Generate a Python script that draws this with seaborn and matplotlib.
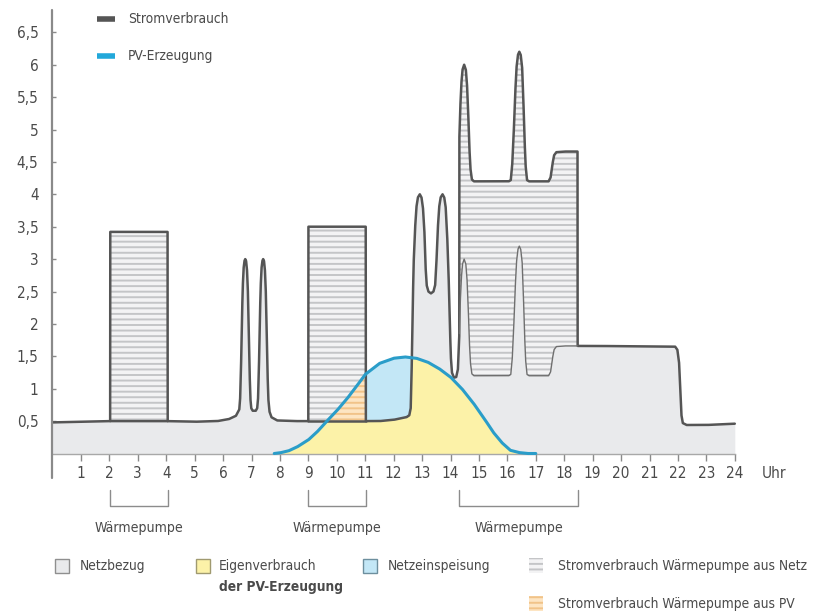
import numpy as np
import pandas as pd
import matplotlib
matplotlib.use("Agg")
import matplotlib.pyplot as plt
import seaborn as sns
from matplotlib import font_manager
from matplotlib.lines import Line2D
from matplotlib.patches import Rectangle

# Household load without heat pump (hour, kW)
house_hours = [0.0, 2.0, 4.0, 5.0, 5.8, 6.2, 6.45, 6.57, 6.60, 6.63, 6.66, 6.69, 6.72,
               6.75, 6.78, 6.81, 6.84, 6.87, 6.90, 6.93, 6.96, 6.99, 7.04, 7.15, 7.20,
               7.23, 7.26, 7.29, 7.32, 7.35, 7.38, 7.41, 7.44, 7.47, 7.50, 7.53, 7.56,
               7.59, 7.63, 7.70, 7.90, 8.5, 11.0, 11.5, 12.0, 12.45, 12.55, 12.60, 12.63,
               12.66, 12.70, 12.75, 12.80, 12.85, 12.92, 12.98, 13.03, 13.08, 13.12, 13.16,
               13.22, 13.31, 13.40, 13.46, 13.50, 13.55, 13.60, 13.65, 13.72, 13.78, 13.83,
               13.88, 13.93, 13.97, 14.01, 14.05, 14.12, 14.20, 14.26, 14.30, 14.34, 14.38,
               14.42, 14.48, 14.54, 14.58, 14.62, 14.66, 14.70, 14.75, 14.82, 16.05, 16.12,
               16.17, 16.22, 16.27, 16.32, 16.37, 16.42, 16.47, 16.52, 16.56, 16.60, 16.64,
               16.69, 16.76, 17.45, 17.52, 17.58, 17.64, 17.72, 18.0, 19.0, 21.9, 21.98,
               22.04, 22.08, 22.12, 22.17, 22.3, 23.0, 24.0]
house_kw = [0.48, 0.50, 0.50, 0.49, 0.50, 0.53, 0.58, 0.68, 0.85, 1.30, 2.00, 2.55, 2.85,
            2.97, 3.00, 2.97, 2.85, 2.55, 2.00, 1.30, 0.85, 0.70, 0.66, 0.66, 0.70,
            0.85, 1.30, 2.00, 2.55, 2.85, 2.97, 3.00, 2.97, 2.85, 2.55, 2.00, 1.30,
            0.85, 0.65, 0.56, 0.51, 0.50, 0.50, 0.50, 0.52, 0.56, 0.59, 0.70, 1.20,
            2.00, 2.90, 3.45, 3.80, 3.95, 4.00, 3.95, 3.80, 3.45, 2.90, 2.60,
            2.50, 2.47, 2.50, 2.60, 2.90, 3.45, 3.80, 3.95, 4.00, 3.95, 3.80,
            3.40, 2.80, 2.10, 1.50, 1.25, 1.17, 1.18, 1.30, 1.70, 2.30, 2.70,
            2.92, 3.00, 2.92, 2.70, 2.30, 1.75, 1.40, 1.23, 1.20, 1.20, 1.22,
            1.45, 1.90, 2.50, 2.95, 3.15, 3.20, 3.15, 2.95, 2.50, 1.90, 1.45,
            1.22, 1.20, 1.20, 1.26, 1.45, 1.60, 1.65, 1.66, 1.66, 1.65, 1.60,
            1.40, 1.00, 0.60, 0.47, 0.44, 0.44, 0.46]

# Heat pump operating windows (start hour, end hour, kW)
hp_start = [2.03, 9.0, 14.31]
hp_end = [4.05, 11.02, 18.47]
hp_kw = [2.92, 3.0, 3.0]

# PV generation (hour, kW)
pv_hours = [7.8, 8.0, 8.3, 8.6, 9.0, 9.3, 9.65, 10.0, 10.35, 10.7, 11.0, 11.5, 12.0,
            12.4, 12.8, 13.2, 13.6, 14.0, 14.4, 14.8, 15.2, 15.5, 15.8, 16.1, 16.4,
            16.7, 17.0]
pv_kw = [0.0, 0.01, 0.04, 0.10, 0.21, 0.33, 0.50, 0.66, 0.84, 1.04, 1.22, 1.39, 1.47,
         1.49, 1.47, 1.41, 1.31, 1.18, 1.00, 0.78, 0.53, 0.33, 0.17, 0.05, 0.015,
         0.0, 0.0]

y_ticks = [0.5, 1, 1.5, 2, 2.5, 3, 3.5, 4, 4.5, 5, 5.5, 6, 6.5]
x_ticks = list(range(1, 25))

# ---------------------------------------------------------------- style
sns.set_theme(style="white")
fonts = font_manager.fontManager.ttflist
names = {f.name for f in fonts}
condensed = [f.name for f in fonts if str(f.stretch) in ("condensed", "semi-condensed")]
if "Liberation Sans Narrow" in names:
    family = ["Liberation Sans Narrow", "DejaVu Sans"]
elif "DejaVu Sans" in condensed:
    family = ["DejaVu Sans"]
    plt.rcParams["font.stretch"] = "condensed"
else:
    family = ["Liberation Sans", "DejaVu Sans"]
plt.rcParams["font.family"] = family
plt.rcParams["hatch.linewidth"] = 1.4
TXT = "#4a4a4a"
AXC = "#8a8a8a"

W, H = 819, 613
fig = plt.figure(figsize=(W / 100, H / 100), dpi=100)
fig.patch.set_facecolor("white")
renderer = fig.canvas.get_renderer()


def fitted_size(label, width_px, base=12.0):
    probe = fig.text(0, 0, label, fontsize=base)
    w = probe.get_window_extent(renderer).width
    probe.remove()
    return base * width_px / w


LEG = min(12.5, fitted_size("Stromverbrauch Wärmepumpe aus Netz", 248))
TOPLEG = min(12.5, fitted_size("Stromverbrauch", 100))
WPL = min(12.0, fitted_size("Wärmepumpe", 88))

x0, x1, ytop, ybot = 52.5, 734.8, 10.0, 453.5
ax = fig.add_axes([x0 / W, 1 - ybot / H, (x1 - x0) / W, (ybot - ytop) / H])
ax.set_facecolor("white")

# ---------------------------------------------------------------- series on a common time base
t = np.union1d(np.linspace(0, 24, 9601), np.array(hp_start + hp_end))
house = np.interp(t, house_hours, house_kw)
pv = np.interp(t, pv_hours, pv_kw, left=0.0, right=0.0)
hp = np.zeros_like(t)
for s, e, k in zip(hp_start, hp_end, hp_kw):
    hp = np.where((t >= s) & (t < e), k, hp)
total = house + hp
in_hp = hp > 0

# grid draw (Netzbezug)
ax.fill_between(t, 0, total, color="#e9eaec", lw=0, zorder=1)
# self-consumed PV
ax.fill_between(t, 0, np.minimum(pv, house), color="#fcf2a8", lw=0, zorder=2)
# feed-in
ax.fill_between(t, house, np.where(~in_hp, np.maximum(pv, house), house),
                color="#c3e7f6", lw=0, zorder=2)
# heat pump fed by PV
ax.fill_between(t, house, np.where(in_hp, np.clip(pv, house, total), house), where=in_hp,
                facecolor="#fde5c3", edgecolor="#f1c389", hatch="---", lw=0, zorder=3)
# heat pump fed by grid
ax.fill_between(t, np.where(in_hp, np.maximum(house, pv), total), total, where=in_hp,
                facecolor="#f3f3f4", edgecolor="#c4c5c7", hatch="---", lw=0, zorder=3)

df = pd.DataFrame({"Stunde": t, "Verbrauch": total, "Haushalt": house, "PV": pv})
sns.lineplot(data=df, x="Stunde", y="Verbrauch", color="#555555", lw=1.8,
             estimator=None, sort=False, ax=ax, zorder=6)
for i, (s, e) in enumerate(zip(hp_start, hp_end)):
    seg = df[(df.Stunde >= s) & (df.Stunde <= e)]
    if i < 2:
        sns.lineplot(data=seg, x="Stunde", y="Haushalt", color="#555555", lw=1.8,
                     estimator=None, sort=False, ax=ax, zorder=6)
    else:
        sns.lineplot(data=seg, x="Stunde", y="Haushalt", color="#6f6f6f", lw=1.0,
                     estimator=None, sort=False, ax=ax, zorder=6)
pv_seg = df[(df.Stunde >= pv_hours[0]) & (df.Stunde <= pv_hours[-1])]
sns.lineplot(data=pv_seg, x="Stunde", y="PV", color="#2a9dc9", lw=2.2,
             estimator=None, sort=False, ax=ax, zorder=7)
for ln in ax.lines:
    ln.set_clip_on(False)

# ---------------------------------------------------------------- axes
ax.set_xlim(0, 24)
ax.set_ylim(0, (ybot - ytop) / 64.8)
ax.set_xlabel("")
ax.set_ylabel("")
for side in ("top", "right", "left"):
    ax.spines[side].set_visible(False)
ax.spines["bottom"].set_color("#a8a8a8")
ax.spines["bottom"].set_linewidth(1.0)
ax.add_line(Line2D([0, 0], [-24.5 / (ybot - ytop), 1], transform=ax.transAxes,
                   color=AXC, lw=1.6, clip_on=False, zorder=8))

ax.set_xticks(x_ticks)
ax.set_xticklabels([str(v) for v in x_ticks])
ax.set_yticks(y_ticks)
ax.set_yticklabels([f"{v:g}".replace(".", ",") for v in y_ticks])
ax.tick_params(axis="x", direction="out", length=5, width=1, color=AXC,
               labelsize=11, labelcolor=TXT, pad=4, bottom=True)
ax.tick_params(axis="y", direction="in", length=3, width=1, color=AXC,
               labelsize=11, labelcolor=TXT, pad=10, left=True)

xt = ax.get_xaxis_transform()
ax.text(24.95, -19.5 / (ybot - ytop), "Uhr", transform=xt, ha="left", va="center",
        fontsize=11, color=TXT)

# heat pump brackets below the time axis
yb_top = -(490 - ybot) / (ybot - ytop)
yb_bot = -(506 - ybot) / (ybot - ytop)
y_lab = -(528 - ybot) / (ybot - ytop)
for s, e in zip(hp_start, hp_end):
    ax.plot([s, s, e, e], [yb_top, yb_bot, yb_bot, yb_top], transform=xt,
            color="#8c8c8c", lw=1.0, clip_on=False)
    ax.text((s + e) / 2, y_lab, "Wärmepumpe", transform=xt, ha="center", va="center",
            fontsize=WPL, color=TXT)


# ---------------------------------------------------------------- legends (figure pixels)
def fx(x):
    return x / W


def fy(y):
    return 1 - y / H


def ftext(x, y, s, size=LEG, **kw):
    fig.text(fx(x), fy(y), s, ha="left", va="center", fontsize=size, color=TXT, **kw)


fig.add_artist(Line2D([fx(97), fx(115)], [fy(19), fy(19)], color="#555555", lw=4.0,
                      solid_capstyle="butt"))
ftext(128, 19, "Stromverbrauch", TOPLEG)
fig.add_artist(Line2D([fx(97), fx(115)], [fy(56), fy(56)], color="#22a8da", lw=4.0,
                      solid_capstyle="butt"))
ftext(128, 56, "PV-Erzeugung", TOPLEG)


def box(x, y, w, h, **kw):
    fig.add_artist(Rectangle((fx(x), fy(y + h)), w / W, h / H, transform=fig.transFigure, **kw))


box(55, 559, 14, 14, facecolor="#e9eaec", edgecolor="#8f8f8f", lw=1.0)
ftext(80, 566, "Netzbezug")
box(196, 559, 14, 14, facecolor="#fcf2a8", edgecolor="#a09a70", lw=1.0)
ftext(219, 566, "Eigenverbrauch")
ftext(219, 587, "der PV-Erzeugung", fontweight="bold")
box(363, 559, 14, 14, facecolor="#c3e7f6", edgecolor="#6d8f9e", lw=1.0)
ftext(388, 566, "Netzeinspeisung")
box(529, 558, 14, 15, facecolor="#f3f3f4", edgecolor="#c4c5c7", hatch="---", lw=0)
ftext(558, 566, "Stromverbrauch Wärmepumpe aus Netz")
box(529, 596, 14, 15, facecolor="#fde5c3", edgecolor="#f1c389", hatch="---", lw=0)
ftext(558, 604, "Stromverbrauch Wärmepumpe aus PV")

fig.savefig("out.png", dpi=100, facecolor="white")
